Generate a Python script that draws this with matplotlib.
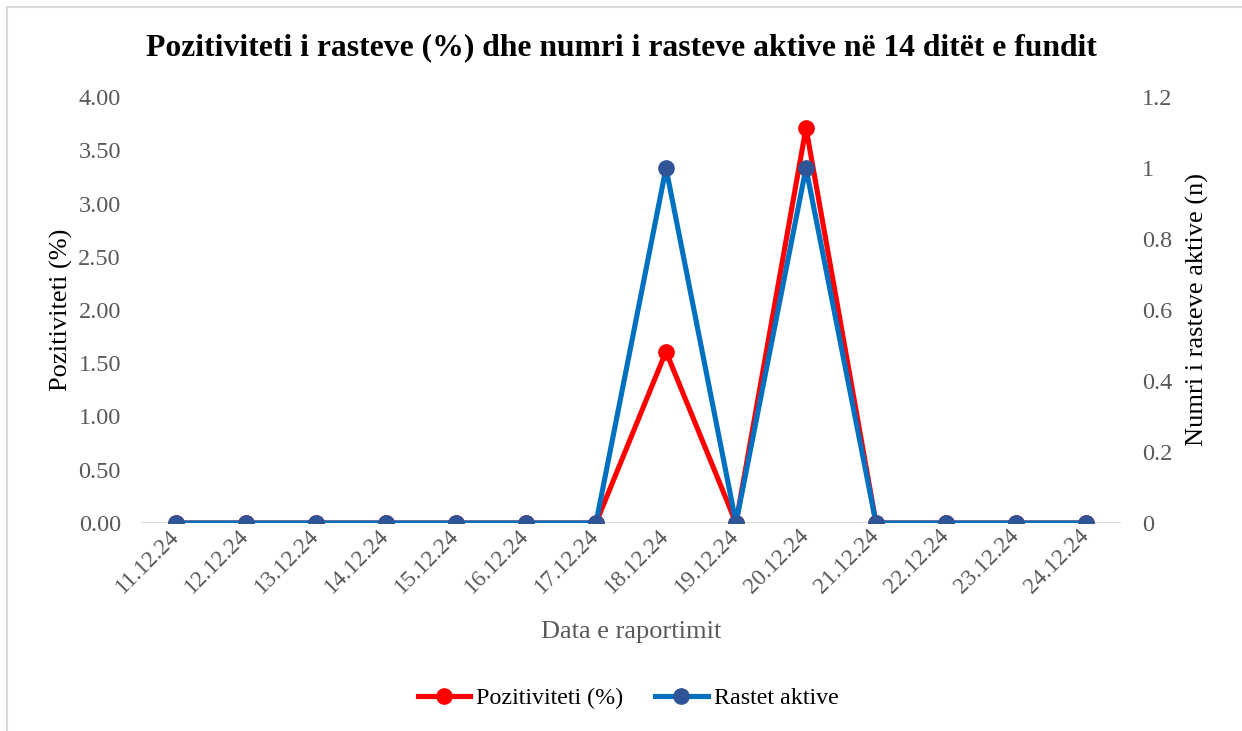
import matplotlib
matplotlib.use("Agg")
import matplotlib.pyplot as plt
from matplotlib.lines import Line2D

dates = ["11.12.24", "12.12.24", "13.12.24", "14.12.24", "15.12.24", "16.12.24", "17.12.24",
         "18.12.24", "19.12.24", "20.12.24", "21.12.24", "22.12.24", "23.12.24", "24.12.24"]
pozitiviteti = [0, 0, 0, 0, 0, 0, 0, 1.61, 0, 3.71, 0, 0, 0, 0]
rastet_aktive = [0, 0, 0, 0, 0, 0, 0, 1, 0, 1, 0, 0, 0, 0]
left_ticks = [0, 0.5, 1.0, 1.5, 2.0, 2.5, 3.0, 3.5, 4.0]
right_ticks = [0, 0.2, 0.4, 0.6, 0.8, 1.0, 1.2]
right_labels = ["0", "0.2", "0.4", "0.6", "0.8", "1", "1.2"]

plt.rcParams['font.family'] = ['Liberation Serif', 'DejaVu Serif']
GRAY = "#595959"

fig = plt.figure(figsize=(12.42, 7.31), dpi=100)
ax = fig.add_axes([141/1242, 1-523/731, (1121-141)/1242, (523-97)/731])
ax2 = ax.twinx()

x = list(range(len(dates)))
ax.plot(x, pozitiviteti, color="#FF0000", lw=3.7, marker="o", ms=11,
        mfc="#FF0000", mec="#FF0000", label="Pozitiviteti (%)", zorder=3)
ax2.plot(x, rastet_aktive, color="#0070C0", lw=3.7, marker="o", ms=11,
         mfc="#2F5597", mec="#2F5597", label="Rastet aktive", zorder=3)

ax.set_xlim(-0.5, len(dates) - 0.5)
ax.set_ylim(0, 4.0)
ax2.set_ylim(0, 1.2)
ax.set_yticks(left_ticks)
ax.set_yticklabels([f"{v:.2f}" for v in left_ticks])
ax2.set_yticks(right_ticks)
ax2.set_yticklabels(right_labels)
ax.set_xticks(x)
ax.set_xticklabels(dates, rotation=45, ha="right", va="center", rotation_mode="anchor")

for a in (ax, ax2):
    for s in a.spines.values():
        s.set_visible(False)
    a.tick_params(length=0, labelsize=17.5, colors=GRAY)
ax.tick_params(axis='x', labelsize=16.8)
ax.tick_params(axis='y', pad=14.5)
ax2.tick_params(axis='y', pad=15)
ax.tick_params(axis='x', pad=7)

ax.axhline(0, color="#D9D9D9", lw=1.5, zorder=1)

ax.set_ylabel("Pozitiviteti (%)", fontsize=19, color="black", labelpad=4)
ax2.set_ylabel("Numri i rasteve aktive (n)", fontsize=19, color="black", labelpad=10)
ax.set_xlabel("Data e raportimit", fontsize=19, color=GRAY, labelpad=17)

fig.text(0.5, 1-48/731, "Pozitiviteti i rasteve (%) dhe numri i rasteve aktive në 14 ditët e fundit",
         ha="center", va="center", fontsize=22.8, fontweight="bold")

h1, l1 = ax.get_legend_handles_labels()
h2, l2 = ax2.get_legend_handles_labels()
fig.legend(h1 + h2, l1 + l2, loc="center", bbox_to_anchor=(0.5 + 7/1242, 1-698/731), ncol=2,
           frameon=False, fontsize=17.3, handlelength=2.2, columnspacing=1.3, handletextpad=0.25)

fig.add_artist(Line2D([6.5/1242, 6.5/1242], [0, 1-6.5/731], color="#D9D9D9", lw=1.5))
fig.add_artist(Line2D([6.5/1242, 1], [1-6.5/731, 1-6.5/731], color="#D9D9D9", lw=1.5))

fig.savefig("out.png", dpi=100)
